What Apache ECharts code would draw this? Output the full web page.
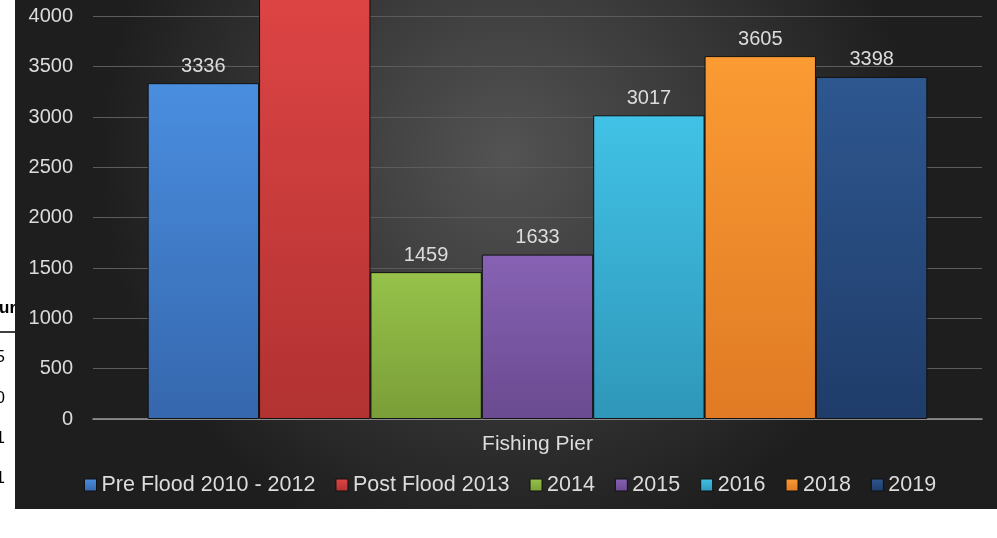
<!DOCTYPE html>
<html>
<head>
<meta charset="utf-8">
<script src="https://cdn.jsdelivr.net/npm/echarts@6/dist/echarts.min.js"></script>
<style>
  html, body { margin: 0; padding: 0; background: #fff; overflow: hidden; }
  /* the chart is cropped at the top in the reference, so the canvas starts above the page */
  #chart { width: 997px; height: 572px; position: relative; top: -34px; }
</style>
</head>
<body>
<div id="chart"></div>
<script>
'use strict';

// data
const categories = ['Fishing Pier'];
const seriesNames = ['Pre Flood 2010 - 2012', 'Post Flood 2013', '2014', '2015', '2016', '2018', '2019'];
// Post Flood 2013 runs off the top of the picture, value is a guess
const seriesValues = [3336, 4450, 1459, 1633, 3017, 3605, 3398];
const showLabel = [true, false, true, true, true, true, true];
const yMax = 4500;
const yStep = 500;

// top / bottom colours for each bar
const barColors = [
    ['#4a8ee0', '#3567ad'],
    ['#e04545', '#b23232'],
    ['#96c24a', '#7a9e38'],
    ['#8762b4', '#6a4a90'],
    ['#41c2e6', '#2f97b9'],
    ['#fa9b33', '#e07a24'],
    ['#2e5790', '#1f3c69']
];

const textColor = '#dcdcdc';
const font = '"Liberation Sans", Arial, sans-serif';
const off = 34; // canvas offset above the page

const grad = (c) => new echarts.graphic.LinearGradient(0, 0, 0, 1, [
    {offset: 0, color: c[0]},
    {offset: 1, color: c[1]}
]);

const series = seriesNames.map((name, i) => ({
    name: name,
    type: 'bar',
    data: [seriesValues[i]],
    barGap: '0%',
    barCategoryGap: '12.3%',
    itemStyle: {color: grad(barColors[i]), borderColor: '#111', borderWidth: 1},
    label: {
        show: showLabel[i],
        position: 'top',
        distance: 7,
        color: textColor,
        fontSize: 20,
        fontFamily: font
    }
}));

// bits of the table that sits behind the chart, cut off on the left
const sideBits = [['ur', 308, 16, true], ['5', 357, 5], ['0', 398, 5], ['1', 438, 5], ['1', 478, 5]];

const chart = echarts.init(document.getElementById('chart'));
chart.setOption({
    backgroundColor: '#fff',
    animation: false,
    textStyle: {fontFamily: font},
    graphic: [
        {
            type: 'rect', z: -10, silent: true,
            shape: {x: 15, y: 0, width: 982, height: 509 + off},
            style: {
                fill: new echarts.graphic.RadialGradient(0.5, 0.35, 0.75, [
                    {offset: 0, color: '#535353'},
                    {offset: 1, color: '#1e1e1e'}
                ])
            }
        },
        {
            type: 'line', silent: true, z: -20,
            shape: {x1: 0, y1: 332 + off, x2: 15, y2: 332 + off},
            style: {stroke: '#000', lineWidth: 1.5}
        }
    ].concat(sideBits.map(b => ({
        type: 'text', silent: true, z: -20,
        x: b[2], y: b[1] + off,
        style: {
            text: b[0], fill: '#000', align: 'right', verticalAlign: 'middle',
            font: (b[3] ? 'bold ' : '') + '17px "Liberation Sans Narrow", "Liberation Sans", Arial'
        }
    }))),
    legend: {
        data: seriesNames,
        left: 79,
        top: 469 + off,
        itemWidth: 12,
        itemHeight: 12,
        itemGap: 20,
        icon: 'rect',
        itemStyle: {borderColor: '#111', borderWidth: 1},
        textStyle: {color: textColor, fontSize: 21.5, fontFamily: font}
    },
    grid: {left: 93, right: 15, top: 0, bottom: 119, outerBoundsMode: 'none', containLabel: false},
    xAxis: {
        type: 'category',
        data: categories,
        axisLine: {lineStyle: {color: '#9a9a9a', width: 1.5}},
        axisTick: {show: false},
        axisLabel: {color: textColor, fontSize: 21, fontFamily: font, margin: 15}
    },
    yAxis: {
        type: 'value',
        min: 0,
        max: yMax,
        interval: yStep,
        axisLine: {show: false},
        axisTick: {show: false},
        splitLine: {lineStyle: {color: '#5c5c5c', width: 1}},
        axisLabel: {
            color: textColor, fontSize: 20, fontFamily: font, margin: 20,
            formatter: (v) => String(v)
        }
    },
    series: series
});
</script>
</body>
</html>
